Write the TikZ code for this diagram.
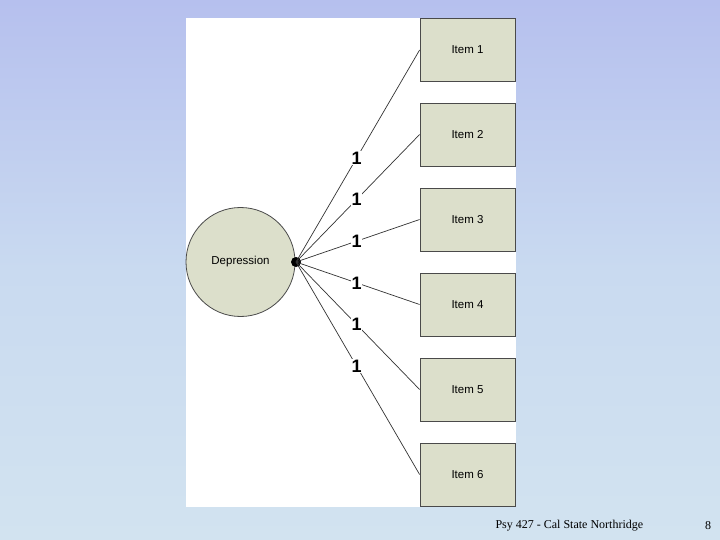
\documentclass[tikz,border=0pt]{standalone}
\usepackage{fontspec}
\newfontfamily\itemfont{Liberation Sans}
\newfontfamily\footfont{Liberation Serif}
\usetikzlibrary{positioning}
\definecolor{skytop}{HTML}{B6C0EE}
\definecolor{skymid}{HTML}{C9DAF0}
\definecolor{skylow}{HTML}{D2E3F0}
\definecolor{boxfill}{HTML}{DCDFCB}
\definecolor{boxline}{HTML}{4A4A4A}

\begin{document}
\begin{tikzpicture}[x=1pt,y=-1pt,
  item/.style={draw=boxline, fill=boxfill, minimum width=95pt, minimum height=63pt, font=\itemfont\fontsize{11.5}{13}\selectfont, line width=0.8pt},
  latent/.style={circle, draw=boxline, fill=boxfill, minimum size=109pt, font=\itemfont\fontsize{11.5}{13}\selectfont, line width=0.8pt},
  load/.style={draw=black!80, line width=0.7pt},
  wt/.style={fill=white, inner sep=0.6pt, font=\itemfont\bfseries\fontsize{18}{20}\selectfont}
]
  \useasboundingbox (0,0) rectangle (720,540);
  % background
  \shade[top color=skytop, bottom color=skylow, middle color=skymid] (0,0) rectangle (720,540);
  \fill[white] (186,18) rectangle (516,507);

  \node[latent] (dep) at (240.5,262) {Depression};
  \node[circle, fill=black, inner sep=0pt, minimum size=10pt] (dot) at (296,262) {};

  \node[item] (it1) at (467.5,50)    {Item 1};
  \node[item] (it2) at (467.5,134.5) {Item 2};
  \node[item] (it3) at (467.5,219.5) {Item 3};
  \node[item] (it4) at (467.5,304.5) {Item 4};
  \node[item] (it5) at (467.5,389.5) {Item 5};
  \node[item] (it6) at (467.5,474.5) {Item 6};

  \foreach \i in {1,...,6}
    \draw[load] (dot.center) -- node[wt, pos=0.49] {1} (it\i.west);

  \node[font=\footfont\fontsize{12}{14}\selectfont, anchor=west] (foot) at (492,526) {Psy 427 - Cal State Northridge};
  \node[font=\footfont\fontsize{12}{14}\selectfont] (page) at (708,526) {8};
\end{tikzpicture}
\end{document}
